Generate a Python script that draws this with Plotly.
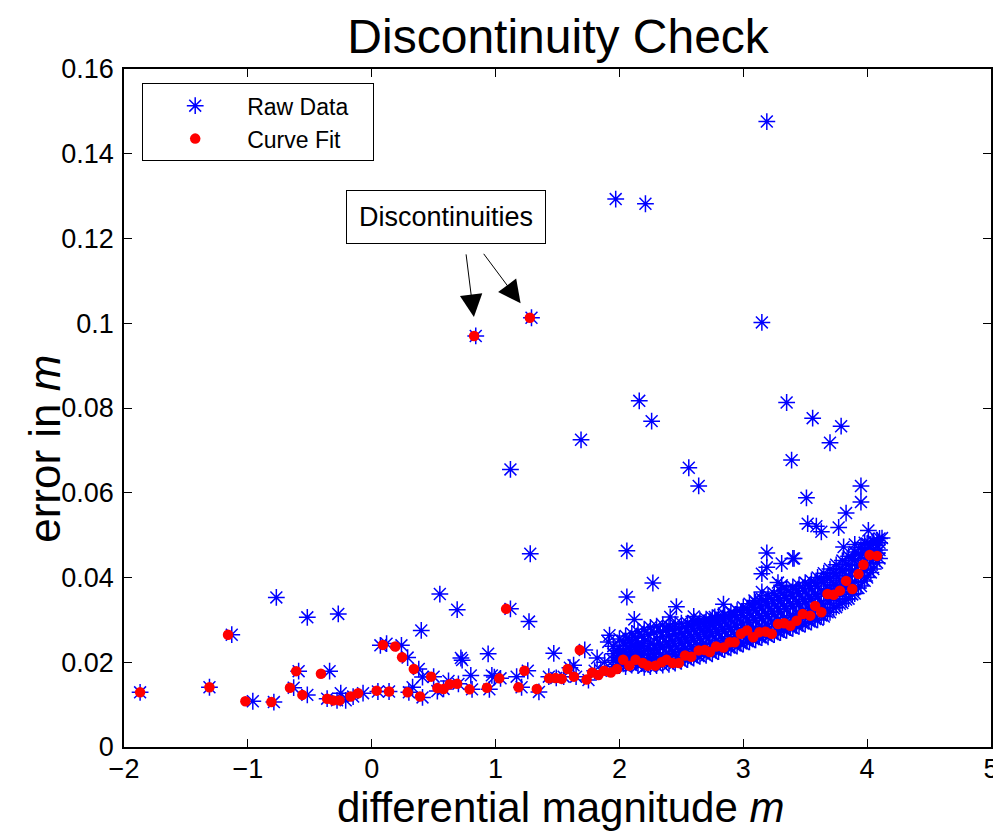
import plotly.graph_objects as go

# ---------------- data ----------------
# Raw data: scattered points (low region + outliers)
raw_x = [
    -1.87, -1.31, -1.13, -0.77, -0.52, -0.27, -0.96, -0.79, -0.63, -0.59, -0.52, -0.34,
    -0.36, -0.25, -0.21, -0.28, -0.07, -0.15, 0.05, 0.07, 0.12, 0.14, 0.24, 0.29, 0.33,
    0.30, 0.38, 0.41, 0.40, 0.41, 0.55, 0.69, 0.50, 0.53, 0.58, 0.62, 0.70, 0.72, 0.73,
    0.80, 0.81, 0.94, 0.95, 0.97, 0.99, 1.04, 1.12, 1.12, 1.27, 1.28, 1.21, 1.17, 1.26,
    1.35, 1.47, 1.43, 1.49, 1.55, 1.60, 1.65, 1.72, 1.69, 1.75, 1.80, 1.85, 1.88, 1.82,
    1.63, 1.91, 1.92, 2.00, 2.10, 0.84, 1.29,
    # outliers above the band
    3.19, 1.97, 2.21, 3.15, 2.16, 2.26, 2.56, 2.64, 3.35, 3.56, 3.39, 3.51, 3.70, 3.79,
    2.06, 3.95, 3.95, 3.83, 3.52, 3.59, 3.63, 3.77, 4.01, 4.12, 3.19, 3.40, 3.31, 3.19,
    3.15, 3.28, 3.31, 3.15, 3.09, 2.84, 2.60, 2.06, 2.27, 2.12, 2.46, 2.41, 2.60, 2.77,
    2.69, 3.81, 3.90, 3.98, 4.05, 3.41,
]
raw_y = [
    0.0129, 0.0141, 0.0265, 0.0353, 0.0306, 0.0314, 0.0108, 0.0106, 0.0140, 0.0179, 0.0123, 0.0179,
    0.0114, 0.0127, 0.0110, 0.0110, 0.0127, 0.0119, 0.0131, 0.0240, 0.0244, 0.0131, 0.0240, 0.0211, 0.0141,
    0.0129, 0.0184, 0.0117, 0.0275, 0.0165, 0.0361, 0.0324, 0.0166, 0.0132, 0.0137, 0.0156, 0.0149, 0.0210, 0.0205,
    0.0169, 0.0136, 0.0220, 0.0136, 0.0169, 0.0165, 0.0162, 0.0326, 0.0655, 0.0296, 0.0456, 0.0141, 0.0166, 0.0180,
    0.0130, 0.0221, 0.0166, 0.0163, 0.0166, 0.0187, 0.0166, 0.0229, 0.0725, 0.0158, 0.0180, 0.0180, 0.0200, 0.0210,
    0.0193, 0.0248, 0.0264, 0.0220, 0.0240, 0.0970, 0.1013,
    0.1476, 0.1293, 0.1282, 0.1002, 0.0817, 0.0769, 0.0659, 0.0616, 0.0813, 0.0776, 0.0677, 0.0588, 0.0718, 0.0757,
    0.0463, 0.0616, 0.0578, 0.0552, 0.0527, 0.0521, 0.0508, 0.0518, 0.0511, 0.0493, 0.0458, 0.0445, 0.0433, 0.0424,
    0.0409, 0.0388, 0.0382, 0.0366, 0.0346, 0.0337, 0.0308, 0.0354, 0.0387, 0.0301, 0.0331, 0.0307, 0.0296, 0.0307,
    0.0291, 0.0472, 0.0478, 0.0482, 0.0486, 0.0445,
]

# Raw data: dense band (column x, then its y values)
band_x = [
    1.95, 1.95, 1.95, 1.95, 1.98, 1.98, 1.98,
    2.00, 2.00, 2.00, 2.00, 2.00, 2.03, 2.03, 2.03, 2.03,
    2.05, 2.05, 2.05, 2.05, 2.05, 2.08, 2.08, 2.08, 2.08,
    2.10, 2.10, 2.10, 2.10, 2.10, 2.13, 2.13, 2.13, 2.13,
    2.15, 2.15, 2.15, 2.15, 2.15, 2.18, 2.18, 2.18, 2.18,
    2.20, 2.20, 2.20, 2.20, 2.20, 2.23, 2.23, 2.23, 2.23,
    2.25, 2.25, 2.25, 2.25, 2.25, 2.28, 2.28, 2.28, 2.28,
    2.30, 2.30, 2.30, 2.30, 2.30, 2.33, 2.33, 2.33, 2.33,
    2.35, 2.35, 2.35, 2.35, 2.35, 2.38, 2.38, 2.38, 2.38,
    2.40, 2.40, 2.40, 2.40, 2.40, 2.43, 2.43, 2.43, 2.43,
    2.45, 2.45, 2.45, 2.45, 2.45, 2.48, 2.48, 2.48, 2.48,
    2.50, 2.50, 2.50, 2.50, 2.50, 2.53, 2.53, 2.53, 2.53,
    2.55, 2.55, 2.55, 2.55, 2.55, 2.58, 2.58, 2.58, 2.58,
    2.60, 2.60, 2.60, 2.60, 2.60, 2.63, 2.63, 2.63, 2.63,
    2.65, 2.65, 2.65, 2.65, 2.65, 2.68, 2.68, 2.68, 2.68,
    2.70, 2.70, 2.70, 2.70, 2.70, 2.73, 2.73, 2.73, 2.73,
    2.75, 2.75, 2.75, 2.75, 2.75, 2.78, 2.78, 2.78, 2.78,
    2.80, 2.80, 2.80, 2.80, 2.80, 2.83, 2.83, 2.83, 2.83,
    2.85, 2.85, 2.85, 2.85, 2.85, 2.88, 2.88, 2.88, 2.88,
    2.90, 2.90, 2.90, 2.90, 2.90, 2.93, 2.93, 2.93, 2.93,
    2.95, 2.95, 2.95, 2.95, 2.95, 2.98, 2.98, 2.98, 2.98,
    3.00, 3.00, 3.00, 3.00, 3.00, 3.03, 3.03, 3.03, 3.03,
    3.05, 3.05, 3.05, 3.05, 3.05, 3.08, 3.08, 3.08, 3.08,
    3.10, 3.10, 3.10, 3.10, 3.10, 3.13, 3.13, 3.13, 3.13,
    3.15, 3.15, 3.15, 3.15, 3.15, 3.18, 3.18, 3.18, 3.18,
    3.20, 3.20, 3.20, 3.20, 3.20, 3.23, 3.23, 3.23, 3.23,
    3.25, 3.25, 3.25, 3.25, 3.25, 3.28, 3.28, 3.28, 3.28,
    3.30, 3.30, 3.30, 3.30, 3.30, 3.33, 3.33, 3.33, 3.33,
    3.35, 3.35, 3.35, 3.35, 3.35, 3.38, 3.38, 3.38, 3.38,
    3.40, 3.40, 3.40, 3.40, 3.40, 3.43, 3.43, 3.43, 3.43,
    3.45, 3.45, 3.45, 3.45, 3.45, 3.48, 3.48, 3.48, 3.48,
    3.50, 3.50, 3.50, 3.50, 3.50, 3.53, 3.53, 3.53, 3.53,
    3.55, 3.55, 3.55, 3.55, 3.55, 3.58, 3.58, 3.58, 3.58,
    3.60, 3.60, 3.60, 3.60, 3.60, 3.63, 3.63, 3.63, 3.63,
    3.65, 3.65, 3.65, 3.65, 3.65, 3.68, 3.68, 3.68, 3.68,
    3.70, 3.70, 3.70, 3.70, 3.70, 3.73, 3.73, 3.73, 3.73,
    3.75, 3.75, 3.75, 3.75, 3.75, 3.78, 3.78, 3.78, 3.78,
    3.80, 3.80, 3.80, 3.80, 3.80, 3.83, 3.83, 3.83, 3.83,
    3.85, 3.85, 3.85, 3.85, 3.85, 3.88, 3.88, 3.88, 3.88,
    3.90, 3.90, 3.90, 3.90, 3.90, 3.93, 3.93, 3.93, 3.93,
    3.95, 3.95, 3.95, 3.95, 3.95, 3.98, 3.98, 3.98, 3.98,
    4.00, 4.00, 4.00, 4.00, 4.00, 4.03, 4.03, 4.03, 4.03,
    4.05, 4.05, 4.05, 4.05, 4.08, 4.08, 4.08, 4.08,
    4.10, 4.10, 4.10, 4.10,
]
band_y = [
    0.0190, 0.0205, 0.0220, 0.0238, 0.0195, 0.0212, 0.0228,
    0.0192, 0.0200, 0.0215, 0.0232, 0.0255, 0.0196, 0.0210, 0.0225, 0.0248,
    0.0190, 0.0205, 0.0218, 0.0240, 0.0262, 0.0198, 0.0212, 0.0230, 0.0252,
    0.0193, 0.0208, 0.0222, 0.0245, 0.0268, 0.0200, 0.0215, 0.0235, 0.0258,
    0.0192, 0.0210, 0.0226, 0.0243, 0.0272, 0.0197, 0.0218, 0.0238, 0.0262,
    0.0188, 0.0205, 0.0222, 0.0250, 0.0278, 0.0195, 0.0212, 0.0232, 0.0266,
    0.0190, 0.0208, 0.0228, 0.0245, 0.0282, 0.0198, 0.0220, 0.0240, 0.0270,
    0.0192, 0.0210, 0.0230, 0.0255, 0.0285, 0.0200, 0.0218, 0.0242, 0.0272,
    0.0193, 0.0212, 0.0235, 0.0260, 0.0288, 0.0202, 0.0222, 0.0248, 0.0276,
    0.0195, 0.0215, 0.0238, 0.0262, 0.0285, 0.0203, 0.0226, 0.0250, 0.0278,
    0.0198, 0.0218, 0.0240, 0.0265, 0.0290, 0.0206, 0.0230, 0.0255, 0.0280,
    0.0202, 0.0222, 0.0245, 0.0268, 0.0292, 0.0210, 0.0233, 0.0258, 0.0283,
    0.0206, 0.0226, 0.0248, 0.0272, 0.0292, 0.0213, 0.0238, 0.0262, 0.0286,
    0.0210, 0.0230, 0.0252, 0.0276, 0.0296, 0.0217, 0.0242, 0.0266, 0.0290,
    0.0214, 0.0234, 0.0256, 0.0280, 0.0300, 0.0220, 0.0245, 0.0270, 0.0293,
    0.0216, 0.0238, 0.0260, 0.0283, 0.0302, 0.0224, 0.0248, 0.0273, 0.0296,
    0.0220, 0.0242, 0.0264, 0.0287, 0.0305, 0.0228, 0.0252, 0.0277, 0.0300,
    0.0225, 0.0246, 0.0268, 0.0291, 0.0310, 0.0232, 0.0256, 0.0281, 0.0304,
    0.0230, 0.0250, 0.0272, 0.0295, 0.0312, 0.0236, 0.0260, 0.0285, 0.0308,
    0.0234, 0.0255, 0.0277, 0.0300, 0.0318, 0.0240, 0.0265, 0.0290, 0.0312,
    0.0238, 0.0260, 0.0282, 0.0305, 0.0322, 0.0245, 0.0270, 0.0295, 0.0318,
    0.0243, 0.0265, 0.0288, 0.0310, 0.0330, 0.0250, 0.0275, 0.0300, 0.0325,
    0.0248, 0.0270, 0.0293, 0.0316, 0.0338, 0.0255, 0.0280, 0.0305, 0.0330,
    0.0253, 0.0275, 0.0298, 0.0322, 0.0342, 0.0260, 0.0285, 0.0310, 0.0335,
    0.0258, 0.0280, 0.0303, 0.0328, 0.0350, 0.0264, 0.0290, 0.0315, 0.0342,
    0.0260, 0.0285, 0.0308, 0.0333, 0.0358, 0.0268, 0.0295, 0.0320, 0.0348,
    0.0265, 0.0290, 0.0313, 0.0338, 0.0362, 0.0272, 0.0300, 0.0326, 0.0352,
    0.0270, 0.0295, 0.0320, 0.0345, 0.0368, 0.0277, 0.0305, 0.0332, 0.0358,
    0.0275, 0.0300, 0.0326, 0.0350, 0.0372, 0.0282, 0.0310, 0.0338, 0.0364,
    0.0280, 0.0306, 0.0332, 0.0356, 0.0378, 0.0287, 0.0315, 0.0343, 0.0368,
    0.0285, 0.0312, 0.0338, 0.0362, 0.0382, 0.0292, 0.0320, 0.0348, 0.0374,
    0.0290, 0.0318, 0.0344, 0.0368, 0.0388, 0.0297, 0.0326, 0.0354, 0.0380,
    0.0295, 0.0323, 0.0350, 0.0374, 0.0392, 0.0302, 0.0332, 0.0360, 0.0386,
    0.0300, 0.0330, 0.0356, 0.0380, 0.0400, 0.0310, 0.0338, 0.0366, 0.0394,
    0.0308, 0.0336, 0.0362, 0.0388, 0.0410, 0.0318, 0.0346, 0.0374, 0.0402,
    0.0318, 0.0345, 0.0372, 0.0398, 0.0420, 0.0328, 0.0356, 0.0384, 0.0412,
    0.0330, 0.0356, 0.0382, 0.0408, 0.0430, 0.0338, 0.0366, 0.0394, 0.0422,
    0.0340, 0.0366, 0.0392, 0.0418, 0.0440, 0.0348, 0.0376, 0.0404, 0.0432,
    0.0350, 0.0378, 0.0404, 0.0430, 0.0450, 0.0360, 0.0388, 0.0416, 0.0444,
    0.0362, 0.0390, 0.0416, 0.0440, 0.0460, 0.0375, 0.0402, 0.0428, 0.0455,
    0.0380, 0.0405, 0.0430, 0.0452, 0.0470, 0.0392, 0.0418, 0.0444, 0.0466,
    0.0400, 0.0425, 0.0448, 0.0468, 0.0480, 0.0412, 0.0436, 0.0458, 0.0478,
    0.0420, 0.0445, 0.0465, 0.0484, 0.0435, 0.0458, 0.0476, 0.0488,
    0.0445, 0.0465, 0.0482, 0.0492,
]

# Curve fit points
fit_x = [
    -1.87, -1.31, -1.16, -1.02, -0.81, -0.66, -0.61, -0.56, -0.41, -0.36, -0.31, -0.26,
    -0.17, -0.11, 0.04, 0.09, 0.14, 0.19, 0.245, 0.29, 0.34, 0.39, 0.48, 0.53, 0.58,
    0.63, 0.69, 0.79, 0.827, 0.93, 1.03, 1.085, 1.185, 1.233, 1.277, 1.333, 1.432,
    1.485, 1.534, 1.582, 1.633, 1.68, 1.735, 1.78, 1.83, 1.877, 1.93, 1.98, 2.03,
    2.08, 2.13, 2.19, 2.23, 2.29, 2.34, 2.38, 2.43, 2.48, 2.53, 2.58, 2.64, 2.69,
    2.73, 2.78, 2.84, 2.89, 2.93, 2.98, 3.03, 3.08, 3.13, 3.18, 3.23, 3.28, 3.33,
    3.38, 3.43, 3.48, 3.54, 3.58, 3.63, 3.68, 3.73, 3.78, 3.83, 3.88, 3.93, 3.97,
    4.02, 4.08,
]
fit_y = [
    0.0129, 0.0141, 0.0265, 0.0108, 0.0106, 0.0140, 0.0179, 0.0123, 0.0173, 0.0114, 0.0110, 0.0110,
    0.0119, 0.0127, 0.0133, 0.0241, 0.0131, 0.0237, 0.0212, 0.0129, 0.0184, 0.0119, 0.0166, 0.0139, 0.0137,
    0.0148, 0.0149, 0.0136, 0.0970, 0.0140, 0.0162, 0.0326, 0.0141, 0.0180, 0.1013, 0.0137, 0.0162,
    0.0163, 0.0161, 0.0184, 0.0166, 0.0229, 0.0159, 0.0176, 0.0170, 0.0180, 0.0176, 0.0184, 0.0206,
    0.0192, 0.0206, 0.0198, 0.0192, 0.0192, 0.0200, 0.0206, 0.0198, 0.0198, 0.0216, 0.0213, 0.0228, 0.0229,
    0.0224, 0.0237, 0.0235, 0.0247, 0.0247, 0.0267, 0.0275, 0.0259, 0.0271, 0.0272, 0.0267, 0.0290, 0.0292,
    0.0286, 0.0298, 0.0314, 0.0310, 0.0333, 0.0318, 0.0361, 0.0359, 0.0369, 0.0392, 0.0373, 0.0408, 0.0430,
    0.0453, 0.0451,
]

x_ticks = [-2, -1, 0, 1, 2, 3, 4, 5]
x_tick_text = ["\u22122", "\u22121", "0", "1", "2", "3", "4", "5"]
y_ticks = [0, 0.02, 0.04, 0.06, 0.08, 0.1, 0.12, 0.14, 0.16]
y_tick_text = ["0", "0.02", "0.04", "0.06", "0.08", "0.1", "0.12", "0.14", "0.16"]

FONT = "Liberation Sans, Arial, Helvetica, sans-serif"

fig = go.Figure()
fig.add_trace(go.Scatter(
    x=raw_x + band_x, y=raw_y + band_y, mode="markers",
    name="Raw Data\u00a0\u00a0\u00a0",
    marker=dict(symbol="asterisk-open", size=14, color="#0000FF",
                line=dict(color="#0000FF", width=1.5)),
))
fig.add_trace(go.Scatter(
    x=fit_x, y=fit_y, mode="markers", name="Curve Fit",
    marker=dict(symbol="circle", size=10.5, color="#FF0000", line=dict(width=0)),
))

axis_common = dict(
    showline=True, linecolor="black", linewidth=1.5, mirror="ticks",
    ticks="inside", ticklen=8, tickwidth=1, tickcolor="black",
    showgrid=False, zeroline=False,
)
fig.update_xaxes(range=[-2, 5], tickvals=x_ticks, ticktext=x_tick_text,
                 tickfont=dict(family=FONT, size=27, color="black"),
                 ticklabelstandoff=-3,
                 **axis_common)
fig.update_yaxes(range=[0, 0.16], tickvals=y_ticks, ticktext=y_tick_text,
                 tickfont=dict(family=FONT, size=27, color="black"),
                 ticklabelstandoff=3,
                 **axis_common)

# page body has an 8px default margin -> figure is 993x826 offset by (8,8)
fig.update_layout(
    width=993, height=826,
    margin=dict(l=116, r=10, t=61, b=87, autoexpand=False),
    paper_bgcolor="white", plot_bgcolor="white",
    title=dict(text="Discontinuity Check", x=0.554, xanchor="center", y=0.986, yanchor="top",
               font=dict(family=FONT, size=48, color="black")),
    showlegend=True,
    legend=dict(x=0.021, y=0.979, xanchor="left", yanchor="top",
                bordercolor="black", borderwidth=1, bgcolor="white",
                font=dict(family=FONT, size=23, color="black"),
                itemwidth=94, tracegroupgap=0),
)

# Axis titles (placed as in the reference)
fig.add_annotation(x=0.504, y=-0.127, xref="paper", yref="paper",
                   text="differential magnitude <i>m</i>", showarrow=False,
                   xanchor="center", yanchor="bottom",
                   font=dict(family=FONT, size=42, color="black"))
fig.add_annotation(x=-0.091, y=0.44, xref="paper", yref="paper",
                   text="error in <i>m</i>", showarrow=False, textangle=-90,
                   xanchor="center", yanchor="middle",
                   font=dict(family=FONT, size=44, color="black"))

# Text box
fig.add_annotation(x=0.598, y=0.125, xref="x", yref="y", text="Discontinuities",
                   showarrow=False, font=dict(family=FONT, size=27, color="black"),
                   bordercolor="black", borderwidth=1, bgcolor="white",
                   width=196, height=50)
# Arrows
fig.add_annotation(x=0.825, y=0.1015, xref="x", yref="y", text="", ax=-8, ay=-64,
                   showarrow=True, arrowhead=2, arrowsize=4.5, arrowwidth=1, arrowcolor="black")
fig.add_annotation(x=1.202, y=0.1047, xref="x", yref="y", text="", ax=-38, ay=-51,
                   showarrow=True, arrowhead=2, arrowsize=4.5, arrowwidth=1, arrowcolor="black")

fig.write_html("out.html")
